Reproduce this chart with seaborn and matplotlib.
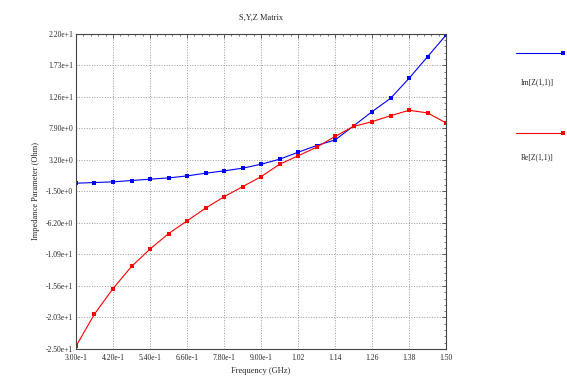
import numpy as np
import pandas as pd
import matplotlib
matplotlib.use("Agg")
import matplotlib.pyplot as plt
import seaborn as sns
from matplotlib.lines import Line2D
from matplotlib.ticker import AutoMinorLocator

sns.set_style("white")
plt.rcParams['font.family'] = ['Liberation Serif', 'DejaVu Sans']

title = "S,Y,Z Matrix"
x_label = "Frequency (GHz)"
y_label = "Impedance Parameter (Ohm)"

freq_blue = [0.30, 0.36, 0.42, 0.48, 0.54, 0.60, 0.66, 0.72, 0.78, 0.84, 0.90,
             0.96, 1.02, 1.08, 1.14, 1.20, 1.26, 1.32, 1.38, 1.44, 1.50]
im_z11 = [-0.28, -0.18, -0.08, 0.12, 0.32, 0.51, 0.81, 1.21, 1.56, 1.96, 2.55,
          3.30, 4.34, 5.34, 6.18, 8.27, 10.41, 12.40, 15.39, 18.62, 21.85]
freq_red = [0.30, 0.36, 0.42, 0.48, 0.54, 0.60, 0.66, 0.72, 0.78, 0.84, 0.90,
            0.96, 1.02, 1.08, 1.14, 1.20, 1.26, 1.32, 1.38, 1.44, 1.50]
re_z11 = [-24.6, -19.8, -16.0, -12.7, -10.1, -7.8, -5.9, -4.0, -2.3, -0.8, 0.7,
          2.55, 3.8, 5.1, 6.7, 8.2, 8.9, 9.8, 10.6, 10.2, 8.7]

series_names = ["Im[Z(1,1)]", "Re[Z(1,1)]"]
series_colors = ["#0000ff", "#ff0000"]

x_ticks = [0.30, 0.42, 0.54, 0.66, 0.78, 0.90, 1.02, 1.14, 1.26, 1.38, 1.50]
x_tick_labels = ["3.00e-1", "4.20e-1", "5.40e-1", "6.60e-1", "7.80e-1", "9.00e-1",
                 "1.02", "1.14", "1.26", "1.38", "1.50"]
y_ticks = [22.0, 17.3, 12.6, 7.9, 3.2, -1.5, -6.2, -10.9, -15.6, -20.3, -25.0]
y_tick_labels = ["2.20e+1", "1.73e+1", "1.26e+1", "7.90e+0", "3.20e+0", "-1.50e+0",
                 "-6.20e+0", "-1.09e+1", "-1.56e+1", "-2.03e+1", "-2.50e+1"]

df = pd.concat([
    pd.DataFrame({"freq": freq_blue, "value": im_z11, "series": series_names[0]}),
    pd.DataFrame({"freq": freq_red, "value": re_z11, "series": series_names[1]}),
])

fig = plt.figure(figsize=(5.67, 3.89), dpi=100)
ax = fig.add_axes([0.134, 0.103, 0.653, 0.810])

sns.lineplot(data=df, x="freq", y="value", hue="series", palette=series_colors,
             marker="s", markersize=3.5, markeredgewidth=0, linewidth=0.8,
             legend=False, ax=ax)

ax.set_xlim(0.30, 1.50)
ax.set_ylim(-25.0, 22.0)
ax.set_xticks(x_ticks)
ax.set_xticklabels(x_tick_labels, fontsize=5.5)
ax.set_yticks(y_ticks)
ax.set_yticklabels(y_tick_labels, fontsize=5.5)
ax.xaxis.set_minor_locator(AutoMinorLocator(5))
ax.yaxis.set_minor_locator(AutoMinorLocator(5))
ax.tick_params(which="both", direction="in", top=True, right=True, color="#444444")
ax.tick_params(which="major", length=3, width=0.6, pad=2)
ax.tick_params(axis="x", which="major", pad=3.5)
ax.tick_params(which="minor", length=1.5, width=0.5)
ax.grid(True, which="major", linestyle=":", color="#999999", linewidth=0.7)
for s in ax.spines.values():
    s.set_color("#444444")
    s.set_linewidth(0.8)

ax.set_xlabel(x_label, fontsize=6)
ax.set_ylabel(y_label, fontsize=6)
ax.set_title(title, fontsize=6, pad=10)

# legend drawn to the right: line above, label below
leg_y = [1 - 53 / 389, 1 - 133 / 389]
lab_y = [1 - 82 / 389, 1 - 157 / 389]
for i in range(2):
    fig.add_artist(Line2D([516 / 567, 563 / 567], [leg_y[i], leg_y[i]],
                          color=series_colors[i], linewidth=0.8,
                          transform=fig.transFigure))
    fig.add_artist(Line2D([563 / 567], [leg_y[i]], color=series_colors[i],
                          marker="s", markersize=3, markeredgewidth=0,
                          transform=fig.transFigure))
    fig.text(537 / 567, lab_y[i], series_names[i], fontsize=5.5,
             ha="center", va="center")

fig.savefig("out.png", dpi=100)
